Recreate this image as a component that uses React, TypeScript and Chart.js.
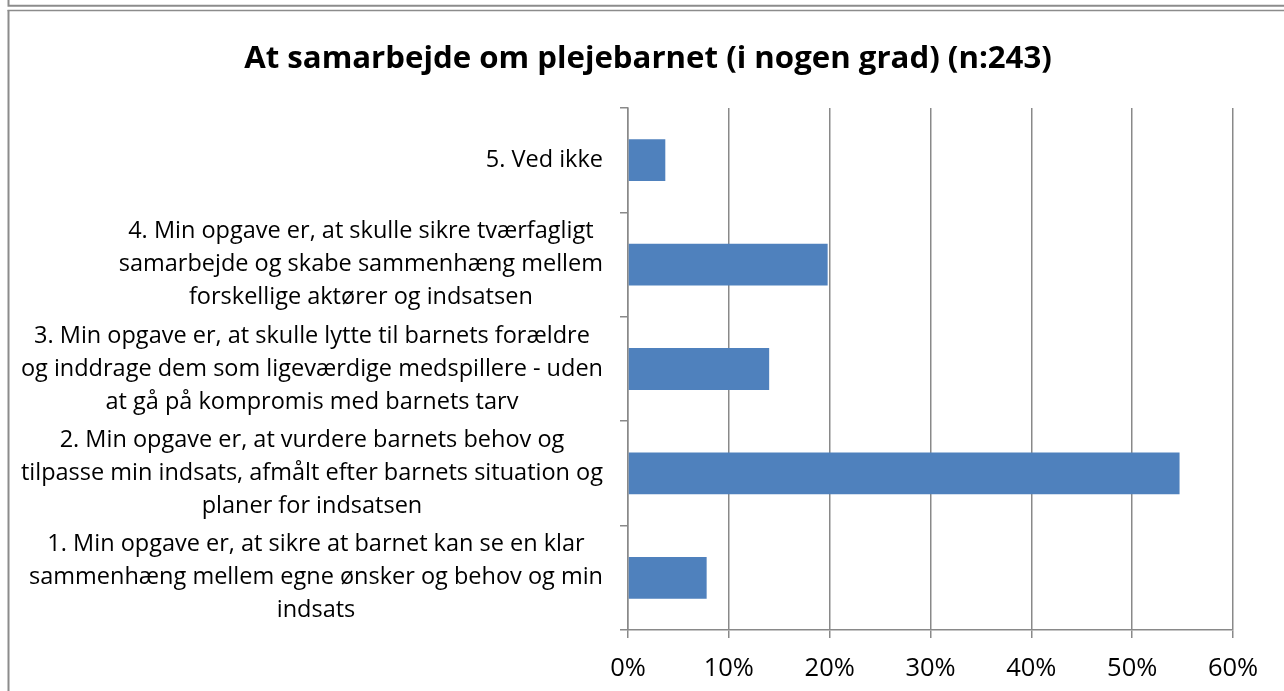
import React, { useEffect, useRef } from "react";
import { Chart, registerables } from "chart.js";

Chart.register(...registerables);

const TITLE = "At samarbejde om plejebarnet (i nogen grad) (n:243)";

const categoryLines: string[][] = [
  ["5. Ved ikke"],
  [
    "4. Min opgave er, at skulle sikre tværfagligt",
    "samarbejde og skabe sammenhæng mellem",
    "forskellige aktører og indsatsen",
  ],
  [
    "3. Min opgave er, at skulle lytte til barnets forældre",
    "og inddrage dem som ligeværdige medspillere - uden",
    "at gå på kompromis med barnets tarv",
  ],
  [
    "2. Min opgave er, at vurdere barnets behov og",
    "tilpasse min indsats, afmålt efter barnets situation og",
    "planer for indsatsen",
  ],
  [
    "1. Min opgave er, at sikre at barnet kan se en klar",
    "sammenhæng mellem egne ønsker og behov og min",
    "indsats",
  ],
];

const categories = categoryLines.map((l) => l.join(" "));
const values = [3.7, 19.8, 14.0, 54.7, 7.8];
const xTicks = [0, 10, 20, 30, 40, 50, 60];

const FONT = "'Open Sans', Lato, sans-serif";
const GRID = "#898989";
const BAR = "#4F81BD";

export default function App() {
  const ref = useRef<HTMLCanvasElement>(null);

  useEffect(() => {
    document.body.style.margin = "0";
    const canvas = ref.current;
    if (!canvas) return;

    const decorPlugin = {
      id: "decor",
      beforeDraw(chart: any) {
        const { ctx, width, height } = chart;
        ctx.save();
        ctx.fillStyle = "#ffffff";
        ctx.fillRect(0, 0, width, height);
        ctx.strokeStyle = "#8c8c8c";
        ctx.lineWidth = 2;
        ctx.beginPath();
        ctx.moveTo(8.5, 0);
        ctx.lineTo(8.5, 5.8);
        ctx.moveTo(7.5, 5.8);
        ctx.lineTo(width, 5.8);
        ctx.stroke();
        ctx.lineWidth = 1.5;
        ctx.beginPath();
        ctx.moveTo(7.5, 10.5);
        ctx.lineTo(width, 10.5);
        ctx.stroke();
        ctx.lineWidth = 2;
        ctx.beginPath();
        ctx.moveTo(8.5, 10);
        ctx.lineTo(8.5, height);
        ctx.stroke();
        // title
        ctx.fillStyle = "#000000";
        ctx.font = `bold 31.2px ${FONT}`;
        ctx.textAlign = "center";
        ctx.textBaseline = "middle";
        ctx.fillText(TITLE, 648, 59);
        ctx.restore();
      },
      afterDraw(chart: any) {
        const { ctx, chartArea } = chart;
        const yScale = chart.scales.y;
        ctx.save();
        ctx.fillStyle = "#000000";
        ctx.font = `23.5px ${FONT}`;
        ctx.textAlign = "center";
        ctx.textBaseline = "middle";
        const lineH = 33;
        const rightEdge = chartArea.left - 25;
        categoryLines.forEach((lines, i) => {
          const y = yScale.getPixelForTick(i);
          const maxW = Math.max(...lines.map((l) => ctx.measureText(l).width));
          const cx = rightEdge - maxW / 2;
          lines.forEach((l, j) => {
            ctx.fillText(l, cx, y + (j - (lines.length - 1) / 2) * lineH);
          });
        });
        ctx.restore();
      },
    };

    const chart = new Chart(canvas, {
      type: "bar",
      data: {
        labels: categories,
        datasets: [
          {
            data: values,
            backgroundColor: BAR,
            borderWidth: 0,
            barPercentage: 0.4,
            categoryPercentage: 1,
          },
        ],
      },
      options: {
        indexAxis: "y",
        animation: false,
        responsive: true,
        maintainAspectRatio: false,
        layout: { padding: { left: 618, right: 51, top: 108, bottom: 0 } },
        plugins: {
          legend: { display: false },
          title: { display: false },
          tooltip: { enabled: false },
        },
        scales: {
          x: {
            type: "linear",
            min: 0,
            max: 60,
            afterBuildTicks: (scale: any) => {
              scale.ticks = xTicks.map((v) => ({ value: v }));
            },
            afterFit: (scale: any) => {
              scale.height = 61;
            },
            ticks: {
              callback: (v: any) => `${v}%`,
              color: "#000000",
              font: { family: FONT, size: 25.5 },
              padding: 15,
              maxRotation: 0,
            },
            grid: {
              color: GRID,
              lineWidth: 1.5,
              drawTicks: true,
              tickLength: 8,
              tickColor: GRID,
            },
            border: { display: true, color: GRID, width: 1.5 },
          },
          y: {
            type: "category",
            afterFit: (scale: any) => {
              scale.width = 10;
            },
            ticks: { display: false },
            grid: {
              offset: true,
              drawOnChartArea: false,
              drawTicks: true,
              tickLength: 8,
              color: GRID,
              lineWidth: 1.5,
            },
            border: { display: true, color: GRID, width: 1.5 },
          },
        },
      },
      plugins: [decorPlugin],
    } as any);

    return () => chart.destroy();
  }, []);

  return (
    <div style={{ position: "relative", width: "1284px", height: "691px" }}>
      <canvas ref={ref} />
    </div>
  );
}
